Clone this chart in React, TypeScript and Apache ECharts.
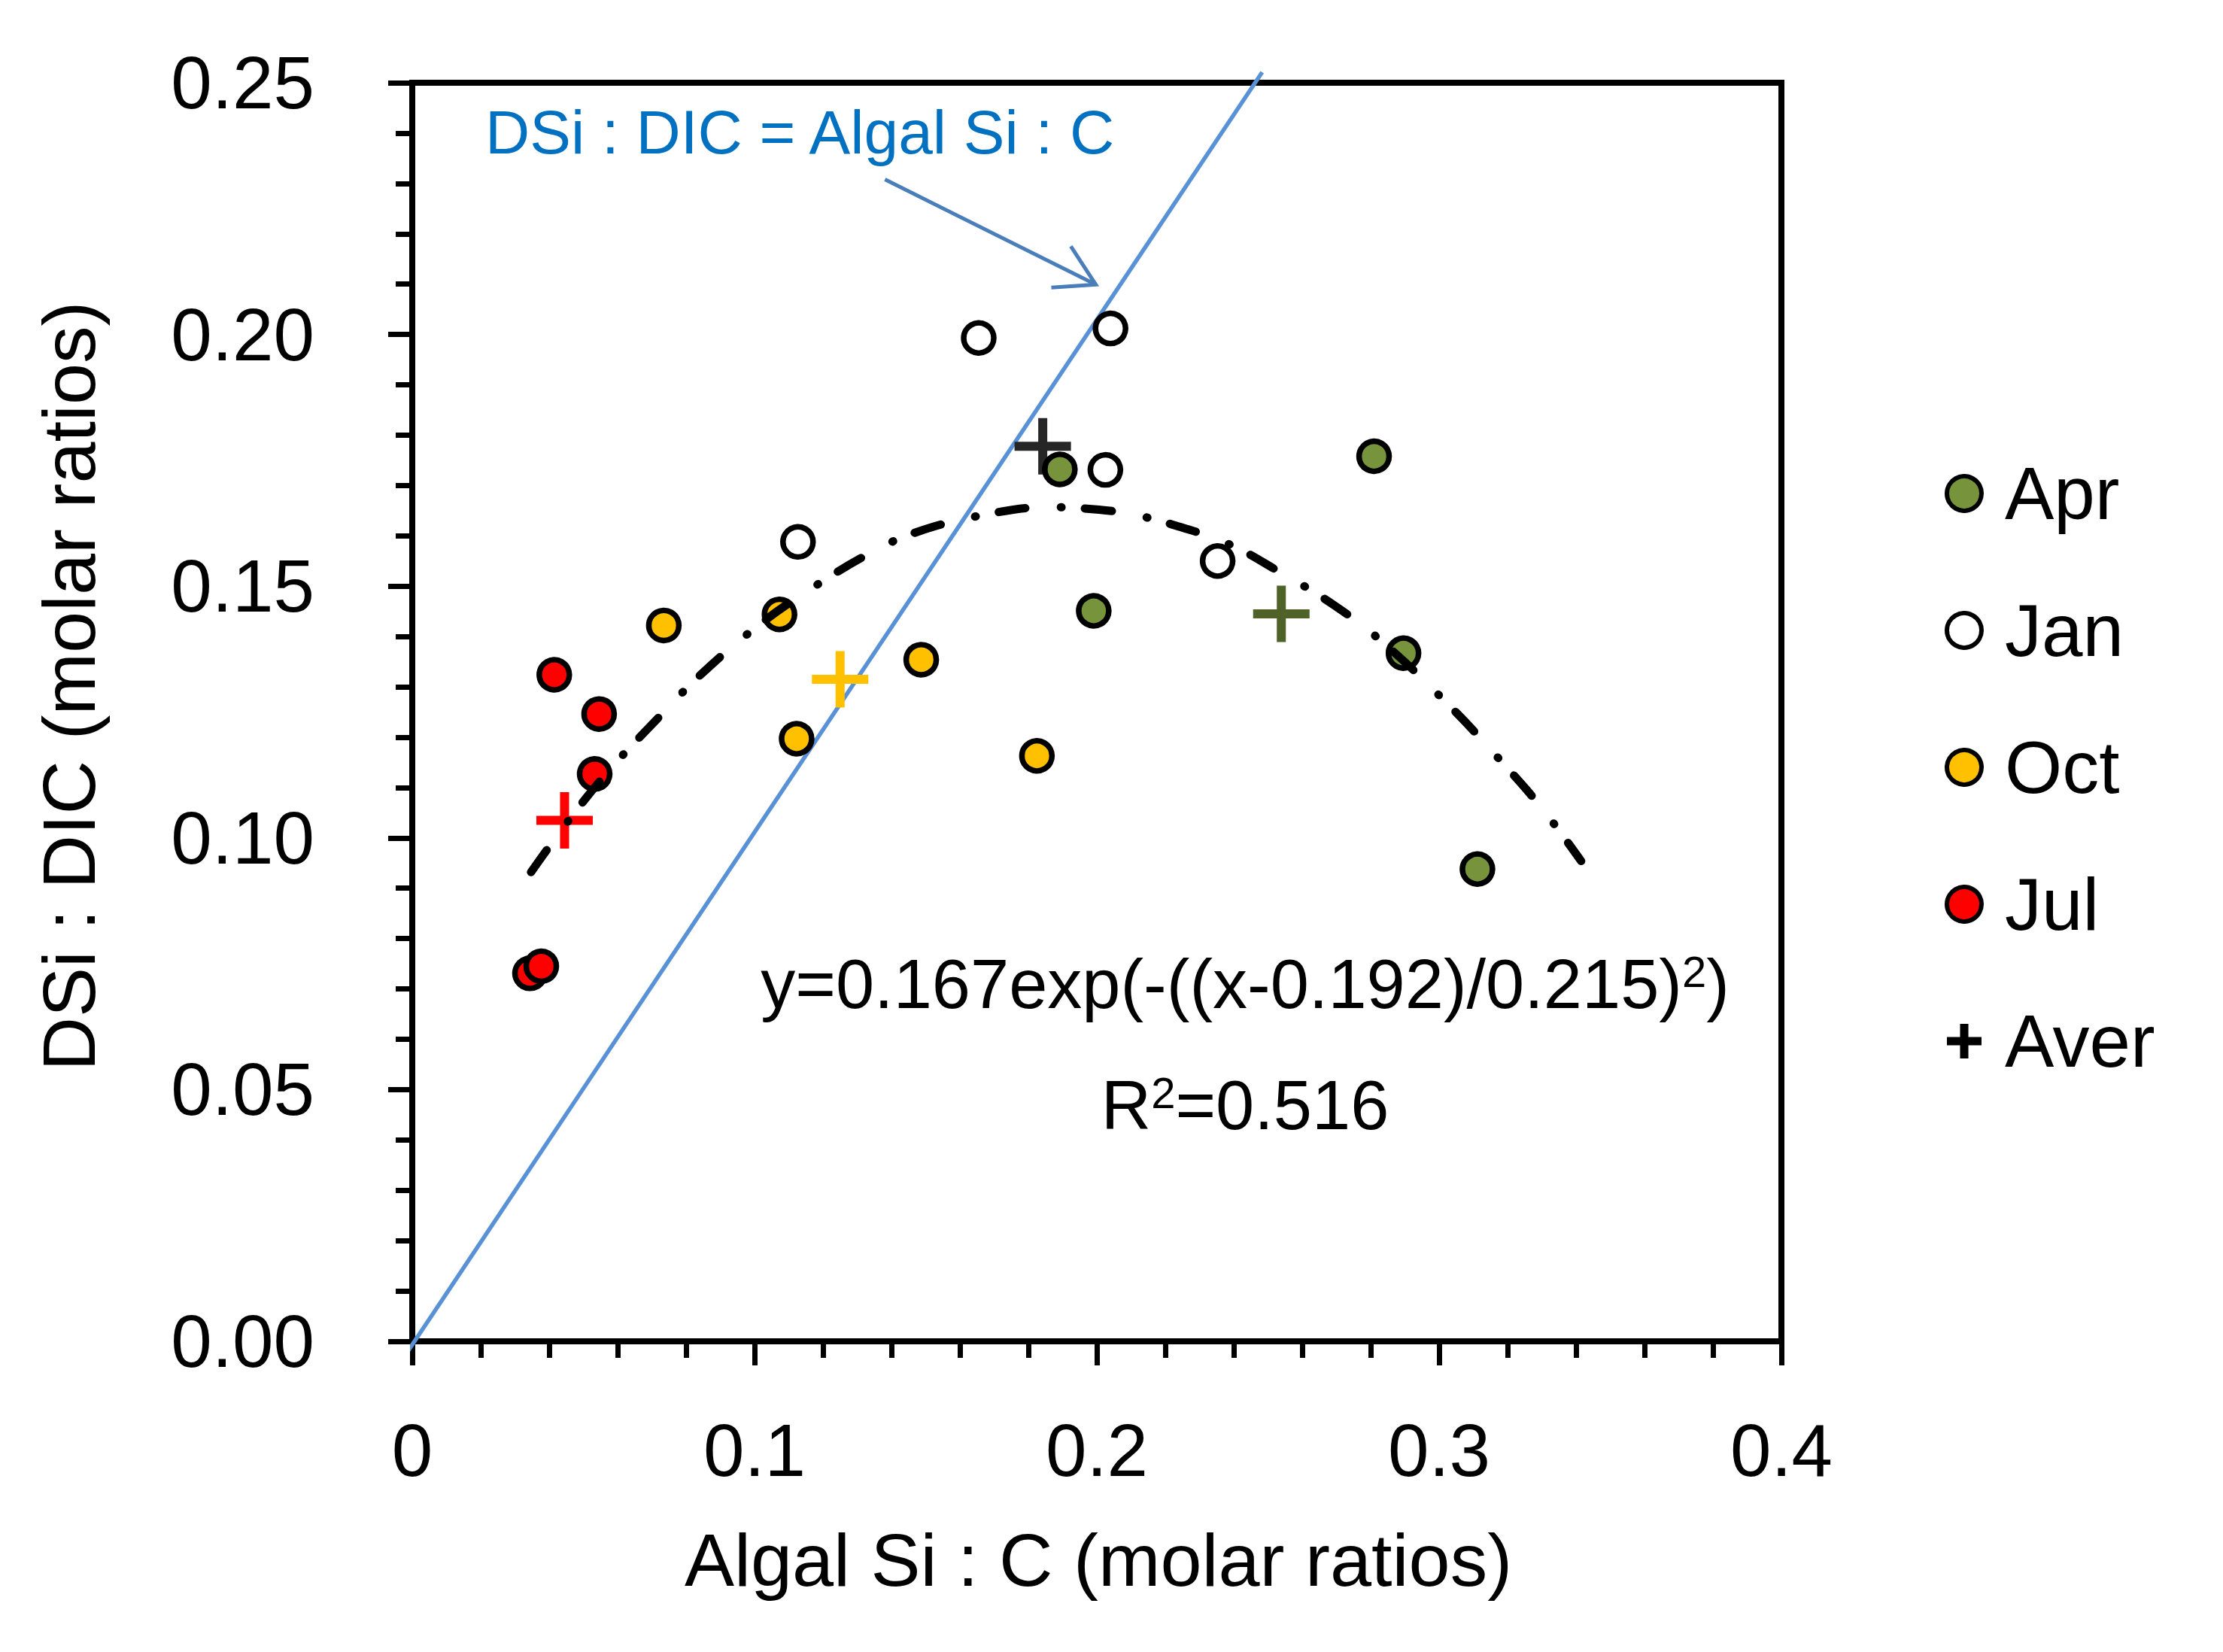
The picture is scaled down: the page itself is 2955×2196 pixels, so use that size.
import React, { useEffect, useRef } from "react";
import * as echarts from "echarts";

const FONT = '"Liberation Sans", Arial, Helvetica, sans-serif';

// Scatter data: [Algal Si:C, DSi:DIC]
const aprPoints: number[][] = [
  [0.1892, 0.1732],
  [0.281, 0.1758],
  [0.1991, 0.1451],
  [0.2896, 0.1367],
  [0.3112, 0.0938],
];
const janPoints: number[][] = [
  [0.1655, 0.1993],
  [0.204, 0.2012],
  [0.2025, 0.1731],
  [0.1127, 0.1588],
  [0.2353, 0.155],
];
const octPoints: number[][] = [
  [0.0735, 0.1422],
  [0.1073, 0.1444],
  [0.1487, 0.1354],
  [0.1123, 0.1197],
  [0.1825, 0.1163],
];
const julPoints: number[][] = [
  [0.0415, 0.1324],
  [0.0546, 0.1246],
  [0.0533, 0.1127],
  [0.0344, 0.0731],
  [0.0377, 0.0745],
];
// Averages per month (cross markers)
const averMonths: string[] = ["Jan", "Apr", "Oct", "Jul"];
const averPoints: number[][] = [
  [0.1842, 0.1778],
  [0.2539, 0.1445],
  [0.125, 0.1315],
  [0.0445, 0.1035],
];
const averColors: string[] = ["#262626", "#4f6228", "#ffc000", "#ff0000"];

// Fitted curve
const fitCurve: number[][] = [
  [0.0347, 0.0932],
  [0.0455, 0.1033],
  [0.0575, 0.1134],
  [0.0714, 0.1235],
  [0.0844, 0.1325],
  [0.1013, 0.1423],
  [0.1165, 0.1495],
  [0.1341, 0.1567],
  [0.1476, 0.1608],
  [0.1673, 0.1642],
  [0.1858, 0.1657],
  [0.2006, 0.1652],
  [0.2107, 0.1642],
  [0.2208, 0.1625],
  [0.2384, 0.1584],
  [0.2527, 0.1531],
  [0.2698, 0.146],
  [0.2848, 0.1381],
  [0.3041, 0.1255],
  [0.3175, 0.1157],
  [0.3299, 0.106],
  [0.3415, 0.0954],
];

// 1:1 line and the annotation arrow
const oneToOneLine: number[][] = [
  [-0.0011, -0.0018],
  [0.2483, 0.2521],
];
const arrowShaft: number[][] = [
  [0.1381, 0.2308],
  [0.1997, 0.2099],
];
const arrowHead: number[][] = [
  [0.1924, 0.2175],
  [0.1997, 0.2099],
  [0.1867, 0.2093],
];

const xTicks = { min: 0, max: 0.4, interval: 0.1 };
const yTicks = { min: 0, max: 0.25, interval: 0.05 };

const legendNames: string[] = ["Apr", "Jan", "Oct", "Jul", "Aver"];
const monthColors: Record<string, string> = {
  Apr: "#77933c",
  Jan: "#ffffff",
  Oct: "#ffc000",
  Jul: "#ff0000",
};

const equationText = "y=0.167exp(-((x-0.192)/0.215)";
const r2Text = "=0.516";
const annotationText = "DSi : DIC = Algal Si : C";
const xTitle = "Algal Si : C (molar ratios)";
const yTitle = "DSi : DIC (molar ratios)";

const PLUS = "path://M42,0H58V42H100V58H58V100H42V58H0V42H42Z";
const PLUS_LEGEND = "path://M38,0H62V38H100V62H62V100H38V62H0V38H38Z";

function circleSeries(name: string, data: number[][]) {
  return {
    name,
    type: "scatter",
    data,
    symbol: "circle",
    symbolSize: 40,
    z: 4,
    itemStyle: { color: monthColors[name], borderColor: "#000", borderWidth: 7.5, opacity: 1 },
  };
}

export default function App() {
  const ref = useRef<HTMLDivElement>(null);

  useEffect(() => {
    if (!ref.current) return;
    const chart = echarts.init(ref.current, null, { renderer: "svg" });

    const axisCommon = {
      type: "value",
      axisLine: { show: true, onZero: false, lineStyle: { color: "#000", width: 8 } },
      axisTick: { show: true, length: 32, lineStyle: { color: "#000", width: 7 } },
      minorTick: { show: true, splitNumber: 5, length: 22, lineStyle: { color: "#000", width: 7 } },
      splitLine: { show: false },
      minorSplitLine: { show: false },
    };

    const option: any = {
      animation: false,
      backgroundColor: "#fff",
      grid: {
        left: 548,
        top: 110,
        width: 1820,
        height: 1673,
        show: true,
        borderColor: "#000",
        borderWidth: 8,
        backgroundColor: "transparent",
      },
      xAxis: {
        ...axisCommon,
        min: xTicks.min,
        max: xTicks.max,
        interval: xTicks.interval,
        axisLabel: {
          fontSize: 98,
          fontFamily: FONT,
          color: "#000",
          margin: 96,
          formatter: (v: number) => (v === 0 ? "0" : v.toFixed(1)),
        },
      },
      yAxis: {
        ...axisCommon,
        min: yTicks.min,
        max: yTicks.max,
        interval: yTicks.interval,
        axisLabel: {
          fontSize: 98,
          fontFamily: FONT,
          color: "#000",
          margin: 130,
          formatter: (v: number) => v.toFixed(2),
        },
      },
      legend: {
        orient: "vertical",
        left: 2580,
        top: 601,
        itemWidth: 46,
        itemHeight: 46,
        itemGap: 82,
        selectedMode: false,
        textStyle: {
          fontSize: 98,
          fontFamily: FONT,
          color: "#000",
          lineHeight: 100,
          padding: [0, 0, 0, 26],
        },
        data: legendNames.map((n) =>
          n === "Aver"
            ? { name: n, icon: PLUS_LEGEND, itemStyle: { color: "#000", borderWidth: 0, opacity: 1 } }
            : {
                name: n,
                icon: "circle",
                itemStyle: { color: monthColors[n], borderColor: "#000", borderWidth: 6, opacity: 1 },
              }
        ),
      },
      series: [
        {
          name: "1:1",
          type: "line",
          data: oneToOneLine,
          symbol: "none",
          clip: false,
          z: 1,
          lineStyle: { color: "#5891d6", width: 5.5 },
        },
        {
          name: "arrowShaft",
          type: "line",
          data: arrowShaft,
          symbol: "none",
          z: 1,
          lineStyle: { color: "#4a7ebb", width: 5 },
        },
        {
          name: "arrowHead",
          type: "line",
          data: arrowHead,
          symbol: "none",
          z: 1,
          lineStyle: { color: "#4a7ebb", width: 5, join: "miter" },
        },
        {
          name: "Aver",
          type: "scatter",
          symbol: PLUS,
          symbolSize: 75,
          z: 3,
          itemStyle: { color: "#000", opacity: 1 },
          data: averPoints.map((p, i) => ({
            name: averMonths[i],
            value: p,
            itemStyle: { color: averColors[i], opacity: 1 },
          })),
        },
        circleSeries("Apr", aprPoints),
        circleSeries("Jan", janPoints),
        circleSeries("Oct", octPoints),
        circleSeries("Jul", julPoints),
        {
          name: "fit",
          type: "line",
          data: fitCurve,
          symbol: "none",
          smooth: 0.4,
          z: 6,
          lineStyle: { color: "#000", width: 11, type: [36, 47, 1, 31], cap: "round" },
        },
      ],
      graphic: [
        {
          type: "text",
          x: 645,
          y: 175,
          style: {
            text: annotationText,
            fontSize: 82,
            fontFamily: FONT,
            fill: "#0070c0",
            align: "left",
            verticalAlign: "middle",
          },
        },
        {
          type: "text",
          x: 1460,
          y: 2073,
          style: {
            text: xTitle,
            fontSize: 99,
            fontFamily: FONT,
            fill: "#000",
            align: "center",
            verticalAlign: "middle",
          },
        },
        {
          type: "text",
          x: 91,
          y: 912,
          rotation: Math.PI / 2,
          style: {
            text: yTitle,
            fontSize: 99,
            fontFamily: FONT,
            fill: "#000",
            align: "center",
            verticalAlign: "middle",
          },
        },
        {
          type: "text",
          x: 1655,
          y: 1308,
          style: {
            text: equationText + "{s|2})",
            fontSize: 92,
            lineHeight: 92,
            fontFamily: FONT,
            fill: "#000",
            align: "center",
            verticalAlign: "middle",
            rich: {
              s: { fontSize: 58, lineHeight: 58, verticalAlign: "top", fontFamily: FONT, fill: "#000" },
            },
          },
        },
        {
          type: "text",
          x: 1655,
          y: 1469,
          style: {
            text: "R{s|2}" + r2Text,
            fontSize: 92,
            lineHeight: 92,
            fontFamily: FONT,
            fill: "#000",
            align: "center",
            verticalAlign: "middle",
            rich: {
              s: { fontSize: 58, lineHeight: 58, verticalAlign: "top", fontFamily: FONT, fill: "#000" },
            },
          },
        },
      ],
    };

    chart.setOption(option);
    return () => chart.dispose();
  }, []);

  return (
    <div
      ref={ref}
      style={{ position: "fixed", left: 0, top: 0, width: 2955, height: 2196, background: "#fff" }}
    />
  );
}
